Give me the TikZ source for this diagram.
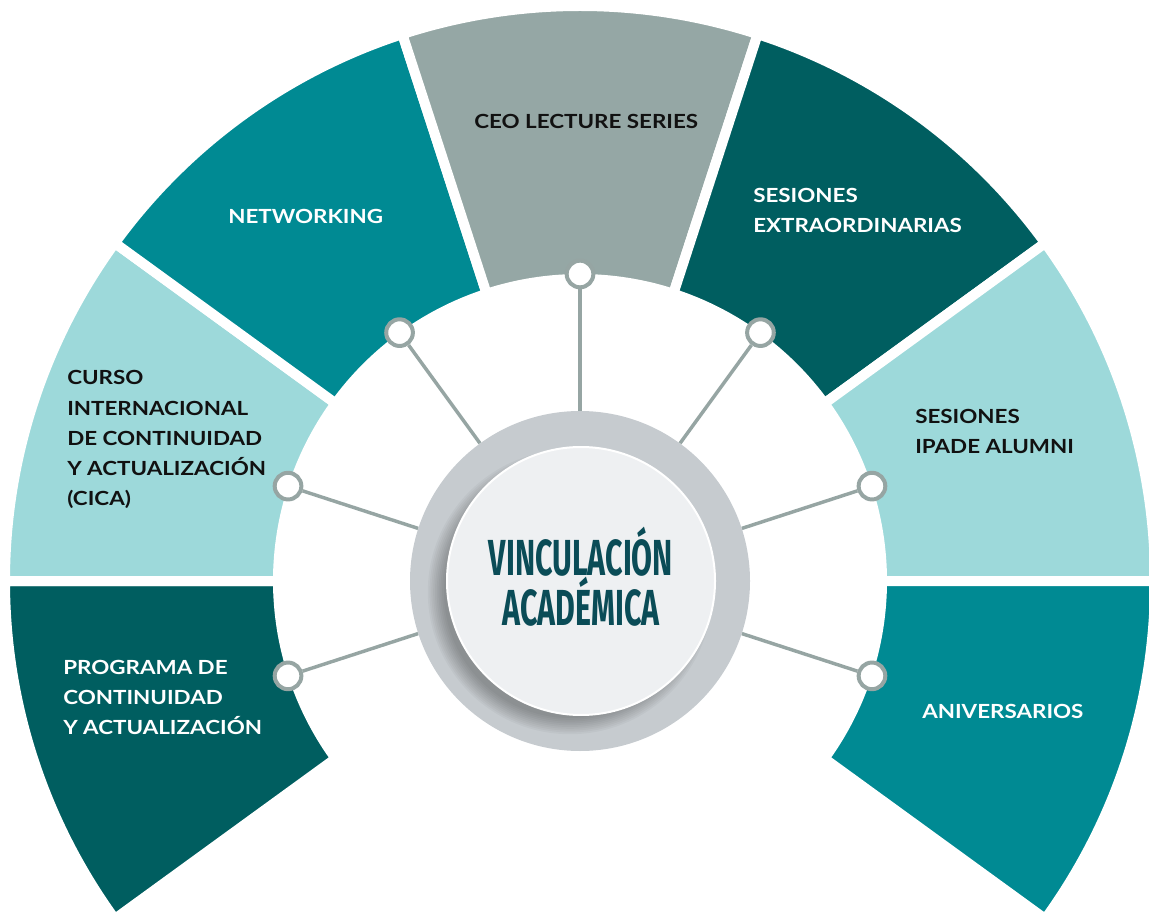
\documentclass[tikz,border=0pt]{standalone}
\usepackage{fontspec}
\setmainfont{Lato}[FakeStretch=1.15]
\newfontfamily\condfont[FakeStretch=0.6]{Fira Sans}
\usetikzlibrary{positioning}

\definecolor{tealdark}{RGB}{0,94,96}
\definecolor{tealmid}{RGB}{0,138,147}
\definecolor{teallight}{RGB}{157,217,218}
\definecolor{sage}{RGB}{149,167,165}
\definecolor{ringgray}{RGB}{198,203,207}
\definecolor{spokegray}{RGB}{150,165,163}
\definecolor{titleteal}{RGB}{10,76,87}
\definecolor{discgray}{RGB}{238,240,242}
\definecolor{inkdark}{RGB}{17,17,17}

\tikzset{
  sector/.style={draw=white, line width=7.5pt, line join=miter},
  itemtext/.style={anchor=base west, inner sep=0pt, align=left, text=inkdark,
    font=\fontsize{14.6}{22.5}\selectfont\bfseries},
  knob/.style={circle, draw=spokegray, fill=white, line width=3pt, minimum size=20pt, inner sep=0pt},
  spoke/.style={draw=spokegray, line width=2.6pt},
}

\begin{document}
\begin{tikzpicture}[x=0.75pt,y=0.75pt,yscale=-1,xscale=1]
\useasboundingbox (0,0) rectangle (1149,912);

% ring of sectors
\begin{scope}[shift={(580,581)}]
\foreach \s/\col in {-216/tealdark, -180/teallight, -144/tealmid, -108/sage, -72/tealdark, -36/teallight, 0/tealmid}
  \filldraw[sector, fill=\col] (\s:575) arc[start angle=\s, end angle=\s+36, radius=575]
    -- ({\s+36}:302) arc[start angle=\s+36, end angle=\s, radius=302] -- cycle;
\end{scope}

% hub
\node[circle, fill=ringgray, minimum size=255pt, inner sep=0pt] (hub) at (580,581) {};
\foreach \i in {0,...,9}
  \fill[black, opacity=0.03] (570,592) circle[radius=126+\i*1.8];
\node[circle, fill=discgray, draw=white, line width=1.5pt, minimum size=201pt, inner sep=0pt] (disc) at (581,581) {};
% (base anchor of a two-line node sits on its last line)
\node[anchor=base, align=center, text=titleteal, inner sep=0pt,
  font=\condfont\bfseries\fontsize{38}{37.5}\selectfont] (title) at (581,625) {VINCULACIÓN\\ACADÉMICA};

% knobs and spokes
\begin{scope}[shift={(580,581)}]
\foreach \a/\n in {-198/prog, -162/cica, -126/net, -90/ceo, -54/ext, -18/alum, 18/aniv}
  \node[knob] (knob-\n) at (\a:307) {};
\end{scope}
\foreach \n in {prog, cica, net, ceo, ext, alum, aniv}
  \draw[spoke] (knob-\n) -- (hub);

% Text Node
\node[itemtext, text=white] (net) at (228,224) {NETWORKING};
% Text Node
\node[itemtext] (ceo) at (474,129) {CEO LECTURE SERIES};
% Text Node
\node[itemtext, text=white] (ext) at (753,233) {SESIONES\\EXTRAORDINARIAS};
% Text Node
\node[itemtext] (cica) at (67,505) {CURSO\\INTERNACIONAL\\DE CONTINUIDAD\\Y ACTUALIZACIÓN\\(CICA)};
% Text Node
\node[itemtext] (alum) at (915,454) {SESIONES\\IPADE ALUMNI};
% Text Node
\node[itemtext, text=white] (prog) at (63,734) {PROGRAMA DE\\CONTINUIDAD\\Y ACTUALIZACIÓN};
% Text Node
\node[itemtext, text=white] (aniv) at (922,718) {ANIVERSARIOS};

\end{tikzpicture}
\end{document}
